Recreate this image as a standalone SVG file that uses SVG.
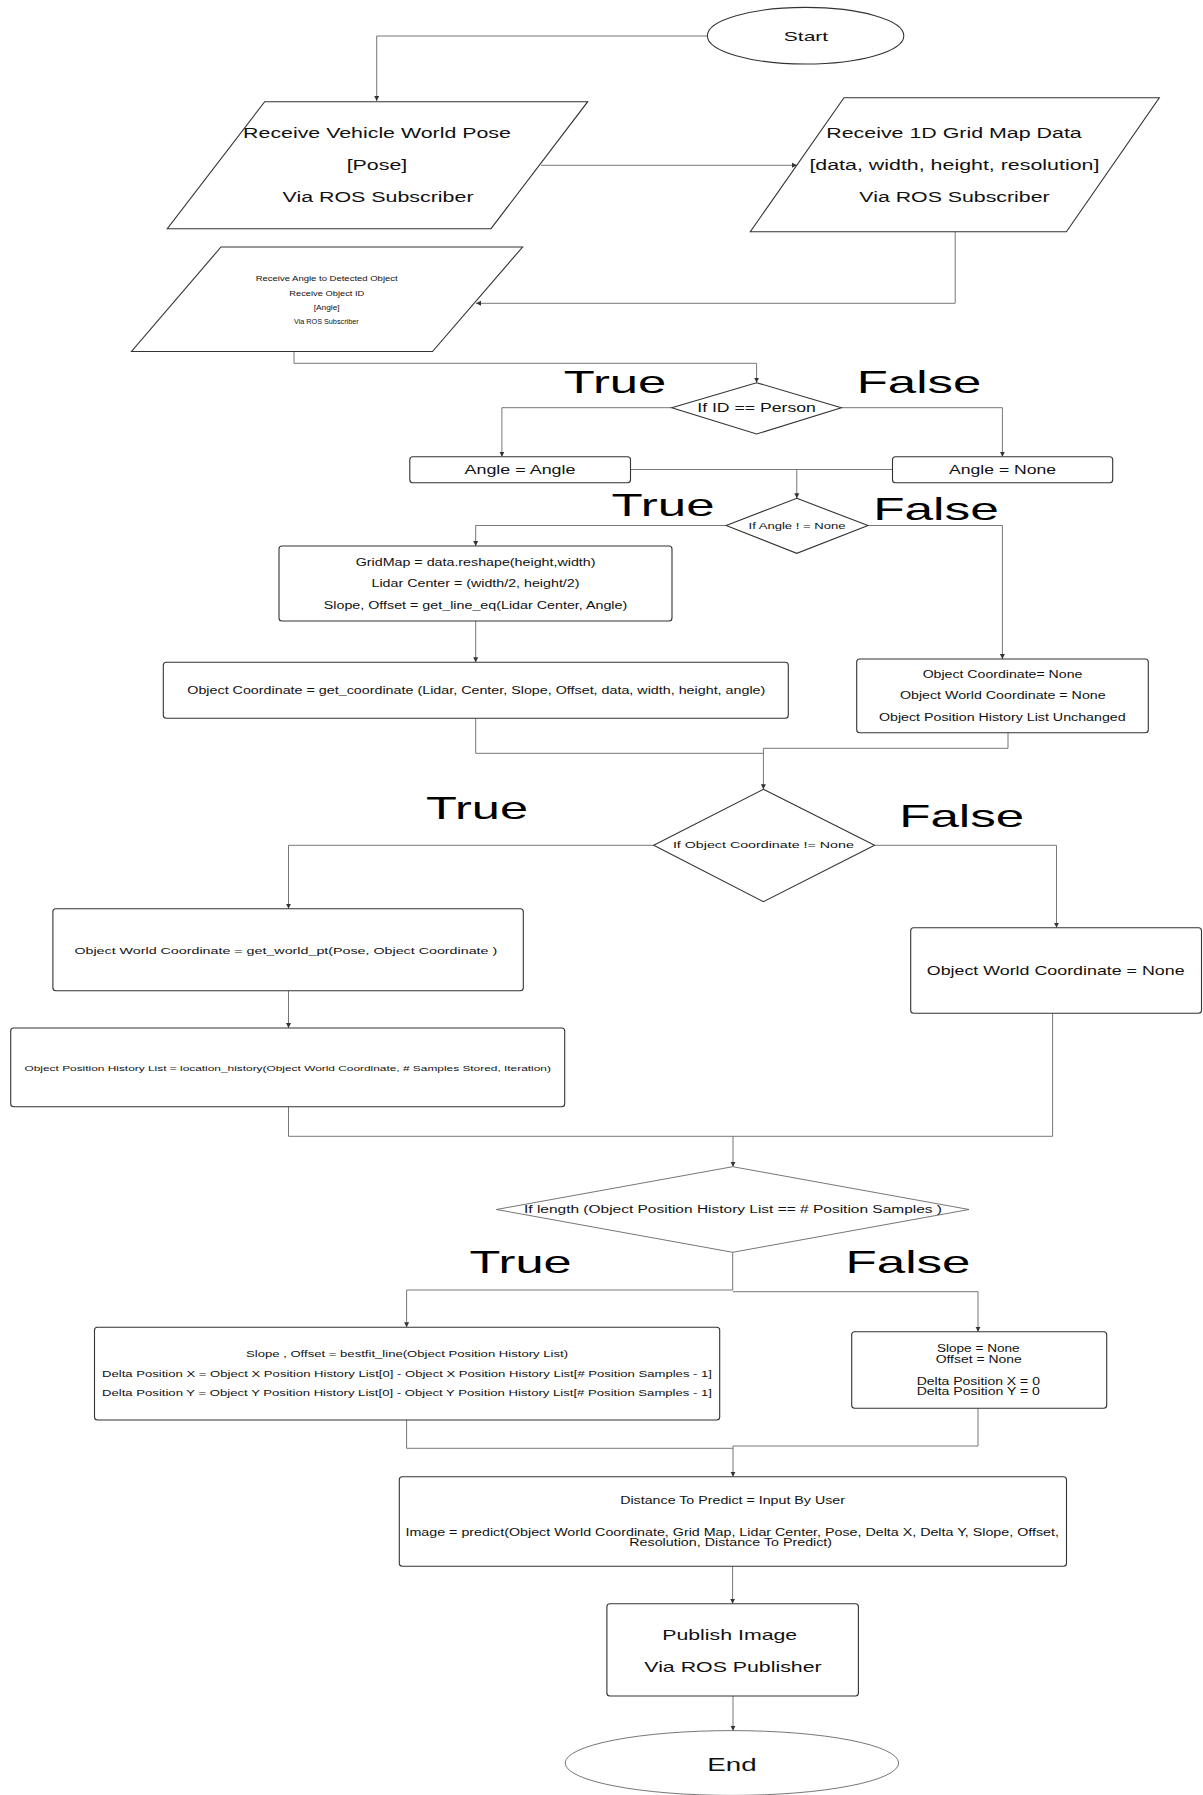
<svg xmlns="http://www.w3.org/2000/svg" width="1203" height="1795" viewBox="0 0 1203 1795">
  <defs>
    <marker id="arrow" markerUnits="userSpaceOnUse" markerWidth="6" markerHeight="6" refX="5" refY="3" orient="auto">
      <path d="M0,0.5 L5,3 L0,5.5 z" fill="#333"/>
    </marker>
  </defs>
  <style>
    .shape { fill: #fff; stroke: #333; stroke-width: 1.1; }
    .soft { fill: #fff; stroke: #666; stroke-width: 0.9; }
    .wire { fill: none; stroke: #777; stroke-width: 1; }
    .wire-a { fill: none; stroke: #777; stroke-width: 1; marker-end: url(#arrow); }
    text { font-family: "Liberation Sans", Arial, sans-serif; fill: #111; text-anchor: middle; }
    .c { dominant-baseline: central; }
    .big { font-size: 32px; fill: #000; }
  </style>
  <rect width="1203" height="1795" fill="#fff"/>

  <!-- connectors -->
  <g id="connectors">
    <path class="wire-a" d="M707.4,36 H376.7 V101"/>
    <path class="wire-a" d="M541,165.3 H797"/>
    <path class="wire-a" d="M955.2,231.7 V303.3 H476"/>
    <path class="wire-a" d="M294,351.5 V363.3 H756.6 V382.7"/>
    <path class="wire-a" d="M671.8,407.7 H501.9 V456.7"/>
    <path class="wire-a" d="M841.3,407.7 H1002.4 V456.7"/>
    <path class="wire" d="M630.5,469.5 H892.5"/>
    <path class="wire-a" d="M796.8,469.5 V498.3"/>
    <path class="wire-a" d="M726.2,525.5 H475.7 V546"/>
    <path class="wire-a" d="M868,525.5 H1002.4 V659"/>
    <path class="wire-a" d="M475.7,621 V662.3"/>
    <path class="wire" d="M475.7,718.3 V753.3 H763.4"/>
    <path class="wire-a" d="M1008,732.7 V748.3 H763.4 V789.3"/>
    <path class="wire-a" d="M653.7,845.3 H288.5 V908.7"/>
    <path class="wire-a" d="M874.6,845.3 H1056.5 V927.7"/>
    <path class="wire-a" d="M288.5,990.7 V1028"/>
    <path class="wire" d="M288.5,1106.7 V1136.3 H1052.6 V1013.3"/>
    <path class="wire-a" d="M733,1136.3 V1166.7"/>
    <path class="wire-a" d="M732.7,1252.3 V1290 H406.6 V1327.3"/>
    <path class="wire-a" d="M732.7,1291.7 H978 V1331.7"/>
    <path class="wire" d="M406.6,1420 V1448.3 H733"/>
    <path class="wire-a" d="M978,1408.3 V1446 H733 V1476.7"/>
    <path class="wire-a" d="M732.6,1566.3 V1603.7"/>
    <path class="wire-a" d="M733,1696 V1730.7"/>
  </g>

  <!-- branch labels -->
  <g id="labels">
    <text class="big" x="615" y="393" textLength="102.5" lengthAdjust="spacingAndGlyphs">True</text>
    <text class="big" x="919" y="393" textLength="124.5" lengthAdjust="spacingAndGlyphs">False</text>
    <text class="big" x="663" y="516" textLength="103" lengthAdjust="spacingAndGlyphs">True</text>
    <text class="big" x="936" y="520" textLength="125.7" lengthAdjust="spacingAndGlyphs">False</text>
    <text class="big" x="477" y="819.3" textLength="102" lengthAdjust="spacingAndGlyphs">True</text>
    <text class="big" x="961.7" y="826.7" textLength="125" lengthAdjust="spacingAndGlyphs">False</text>
    <text class="big" x="520.6" y="1272.7" textLength="102" lengthAdjust="spacingAndGlyphs">True</text>
    <text class="big" x="908" y="1272.7" textLength="125" lengthAdjust="spacingAndGlyphs">False</text>
  </g>

  <g id="start">
    <ellipse class="shape" cx="805.6" cy="35.7" rx="98.2" ry="28.3"/>
    <text class="c" x="806" y="36" font-size="13" textLength="44.5" lengthAdjust="spacingAndGlyphs">Start</text>
  </g>

  <g id="receive-pose">
    <polygon class="shape" points="264.7,101.7 587.7,101.7 491,228.7 167.3,228.7"/>
    <text class="c" x="377" y="133.3" font-size="14" textLength="267.8" lengthAdjust="spacingAndGlyphs">Receive Vehicle World Pose</text>
    <text class="c" x="377" y="165.3" font-size="14" textLength="60.6" lengthAdjust="spacingAndGlyphs">[Pose]</text>
    <text class="c" x="378" y="197.3" font-size="14" textLength="191" lengthAdjust="spacingAndGlyphs">Via ROS Subscriber</text>
  </g>

  <g id="receive-grid">
    <polygon class="shape" points="844,97.7 1159.3,97.7 1066.4,231.7 750.3,231.7"/>
    <text class="c" x="954" y="133.3" font-size="14" textLength="255.5" lengthAdjust="spacingAndGlyphs">Receive 1D Grid Map Data</text>
    <text class="c" x="954.4" y="165.3" font-size="14" textLength="290" lengthAdjust="spacingAndGlyphs">[data, width, height, resolution]</text>
    <text class="c" x="954.5" y="197.3" font-size="14" textLength="190.3" lengthAdjust="spacingAndGlyphs">Via ROS Subscriber</text>
  </g>

  <g id="receive-angle">
    <polygon class="shape" points="221,247 522.6,247 432.5,351.5 131.5,351.5"/>
    <text class="c" x="326.7" y="278.3" font-size="7.5" textLength="142" lengthAdjust="spacingAndGlyphs">Receive Angle to Detected Object</text>
    <text class="c" x="326.8" y="293.3" font-size="7.5" textLength="75" lengthAdjust="spacingAndGlyphs">Receive Object ID</text>
    <text class="c" x="326.7" y="307.7" font-size="7.5" textLength="26" lengthAdjust="spacingAndGlyphs">[Angle]</text>
    <text class="c" x="326.3" y="321.7" font-size="7.5" textLength="64.7" lengthAdjust="spacingAndGlyphs">Via ROS Subscriber</text>
  </g>

  <g id="if-person">
    <polygon class="shape" points="756.6,382.7 841.3,407.7 756.6,434 671.8,407.7"/>
    <text class="c" x="756.6" y="408" font-size="12.5" textLength="118.7" lengthAdjust="spacingAndGlyphs">If ID == Person</text>
  </g>

  <g id="angle-angle">
    <rect class="shape" x="409.8" y="456.7" width="220.7" height="26" rx="3"/>
    <text class="c" x="520" y="470" font-size="12.5" textLength="111" lengthAdjust="spacingAndGlyphs">Angle = Angle</text>
  </g>

  <g id="angle-none">
    <rect class="shape" x="892.5" y="456.7" width="220.2" height="26" rx="3"/>
    <text class="c" x="1002.6" y="470" font-size="12.5" textLength="107" lengthAdjust="spacingAndGlyphs">Angle = None</text>
  </g>

  <g id="if-angle">
    <polygon class="shape" points="796.8,498.3 868,525.5 796.8,553.3 726.2,525.5"/>
    <text class="c" x="797" y="525.5" font-size="9.3" textLength="97" lengthAdjust="spacingAndGlyphs">If Angle ! = None</text>
  </g>

  <g id="gridmap">
    <rect class="shape" x="279" y="546" width="393" height="75" rx="3"/>
    <text class="c" x="475.6" y="562" font-size="10" textLength="239.7" lengthAdjust="spacingAndGlyphs">GridMap = data.reshape(height,width)</text>
    <text class="c" x="475.5" y="583.3" font-size="10" textLength="208" lengthAdjust="spacingAndGlyphs">Lidar Center = (width/2, height/2)</text>
    <text class="c" x="475.5" y="605" font-size="10" textLength="303.5" lengthAdjust="spacingAndGlyphs">Slope, Offset = get_line_eq(Lidar Center, Angle)</text>
  </g>

  <g id="object-coordinate">
    <rect class="shape" x="163.3" y="662.3" width="625" height="56" rx="3"/>
    <text class="c" x="476.3" y="690.5" font-size="10" textLength="578" lengthAdjust="spacingAndGlyphs">Object Coordinate = get_coordinate (Lidar, Center, Slope, Offset, data, width, height, angle)</text>
  </g>

  <g id="coordinate-none">
    <rect class="shape" x="856.7" y="659" width="291.6" height="73.7" rx="3"/>
    <text class="c" x="1002.5" y="674.3" font-size="10" textLength="159.7" lengthAdjust="spacingAndGlyphs">Object Coordinate= None</text>
    <text class="c" x="1002.8" y="695" font-size="10" textLength="205.7" lengthAdjust="spacingAndGlyphs">Object World Coordinate = None</text>
    <text class="c" x="1002.3" y="717" font-size="10" textLength="246.7" lengthAdjust="spacingAndGlyphs">Object Position History List Unchanged</text>
  </g>

  <g id="if-coordinate">
    <polygon class="shape" points="763.4,789.3 874.6,845.3 763.4,901.7 653.7,845.3"/>
    <text class="c" x="763.4" y="845.3" font-size="9" textLength="181" lengthAdjust="spacingAndGlyphs">If Object Coordinate != None</text>
  </g>

  <g id="world-coordinate">
    <rect class="shape" x="52.9" y="908.7" width="470.4" height="82" rx="3"/>
    <text class="c" x="285.8" y="950" font-size="9.5" textLength="422.8" lengthAdjust="spacingAndGlyphs">Object World Coordinate = get_world_pt(Pose, Object Coordinate )</text>
  </g>

  <g id="world-none">
    <rect class="shape" x="910.7" y="927.7" width="290.8" height="85.6" rx="3"/>
    <text class="c" x="1055.7" y="970.7" font-size="12.6" textLength="257.8" lengthAdjust="spacingAndGlyphs">Object World Coordinate = None</text>
  </g>

  <g id="history">
    <rect class="shape" x="10.7" y="1028" width="554" height="78.7" rx="3"/>
    <text class="c" x="287.7" y="1068" font-size="7.8" textLength="526.4" lengthAdjust="spacingAndGlyphs">Object Position History List = location_history(Object World Coordinate, # Samples Stored, Iteration)</text>
  </g>

  <g id="if-length">
    <polygon class="soft" points="732.7,1166.7 969,1209.5 732.7,1252.3 496.4,1209.5"/>
    <text class="c" x="733" y="1209.3" font-size="10" textLength="418" lengthAdjust="spacingAndGlyphs">If length (Object Position History List == # Position Samples )</text>
  </g>

  <g id="bestfit">
    <rect class="shape" x="94.5" y="1327.3" width="625.2" height="92.7" rx="3"/>
    <text class="c" x="407" y="1354" font-size="9" textLength="322" lengthAdjust="spacingAndGlyphs">Slope , Offset = bestfit_line(Object Position History List)</text>
    <text class="c" x="407" y="1373.7" font-size="9" textLength="610" lengthAdjust="spacingAndGlyphs">Delta Position X = Object X Position History List[0] - Object X Position History List[# Position Samples - 1]</text>
    <text class="c" x="407" y="1393.3" font-size="9" textLength="610" lengthAdjust="spacingAndGlyphs">Delta Position Y = Object Y Position History List[0] - Object Y Position History List[# Position Samples - 1]</text>
  </g>

  <g id="slope-none">
    <rect class="shape" x="851.7" y="1331.7" width="255" height="76.6" rx="3"/>
    <text class="c" x="978.3" y="1348.3" font-size="10" textLength="82.7" lengthAdjust="spacingAndGlyphs">Slope = None</text>
    <text class="c" x="978.7" y="1359.3" font-size="10" textLength="86" lengthAdjust="spacingAndGlyphs">Offset = None</text>
    <text class="c" x="978.3" y="1381" font-size="10" textLength="123.3" lengthAdjust="spacingAndGlyphs">Delta Position X = 0</text>
    <text class="c" x="978.3" y="1391.7" font-size="10" textLength="123.3" lengthAdjust="spacingAndGlyphs">Delta Position Y = 0</text>
  </g>

  <g id="predict">
    <rect class="shape" x="399.3" y="1476.7" width="667.2" height="89.6" rx="3"/>
    <text class="c" x="732.6" y="1500" font-size="10" textLength="224.8" lengthAdjust="spacingAndGlyphs">Distance To Predict = Input By User</text>
    <text class="c" x="732.2" y="1532" font-size="10" textLength="653.4" lengthAdjust="spacingAndGlyphs">Image = predict(Object World Coordinate, Grid Map, Lidar Center, Pose, Delta X, Delta Y, Slope, Offset,</text>
    <text class="c" x="730.7" y="1542.7" font-size="10" textLength="202.8" lengthAdjust="spacingAndGlyphs">Resolution, Distance To Predict)</text>
  </g>

  <g id="publish">
    <rect class="shape" x="606.9" y="1603.7" width="251.5" height="92.3" rx="3"/>
    <text class="c" x="729.7" y="1634" font-size="15" textLength="135" lengthAdjust="spacingAndGlyphs">Publish Image</text>
    <text class="c" x="733" y="1666" font-size="15" textLength="177.4" lengthAdjust="spacingAndGlyphs">Via ROS Publisher</text>
  </g>

  <g id="end">
    <ellipse class="soft" cx="731.9" cy="1763" rx="166.7" ry="32.4"/>
    <text class="c" x="732" y="1764" font-size="19" textLength="49.3" lengthAdjust="spacingAndGlyphs">End</text>
  </g>
</svg>
